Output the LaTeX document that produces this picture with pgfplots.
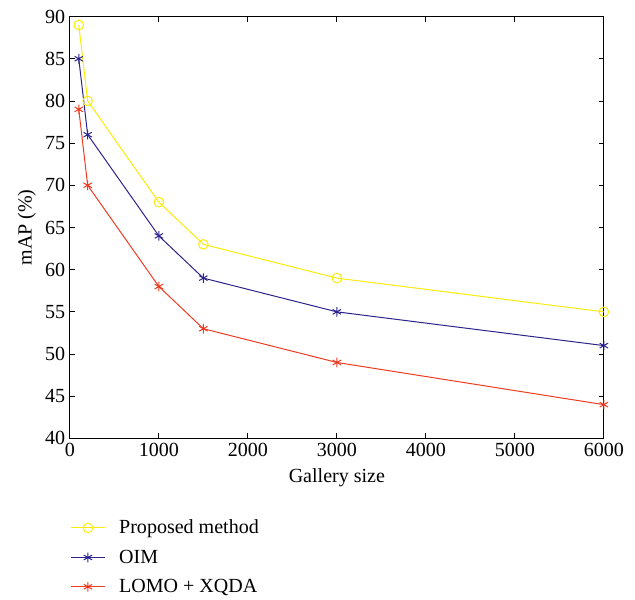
\documentclass[border=0pt]{standalone}
\usepackage{fontspec}
\setmainfont{Liberation Serif}
\usepackage{pgfplots}
\pgfplotsset{compat=1.18}
\definecolor{cyel}{RGB}{250,235,10}
\definecolor{cblue}{RGB}{45,35,140}
\definecolor{cred}{RGB}{238,60,35}
\begin{document}
\begin{tikzpicture}
\begin{axis}[
    width=400pt, height=316pt,
    scale only axis,
    xmin=0, xmax=6000,
    ymin=40, ymax=90,
    xtick={0,1000,2000,3000,4000,5000,6000},
    ytick={40,45,...,90},
    tick align=inside,
    tick style={black, line width=0.6pt},
    axis line style={line width=0.6pt},
    major tick length=4pt,
    xlabel={Gallery size},
    ylabel={mAP (\%)},
    scaled x ticks=false,
    /pgf/number format/assume math mode=true,
    /pgf/number format/1000 sep={},
    tick label style={font=\fontsize{15}{17}\selectfont},
    label style={font=\fontsize{15}{17}\selectfont},
    xlabel style={yshift=-2pt},
    legend style={draw=none, fill=none, at={(0,-0.18)}, anchor=north west,
        font=\fontsize{15}{17}\selectfont, row sep=6.5pt, cells={anchor=west},
        inner xsep=0pt},
    legend cell align=left,
    legend image code/.code={
        \draw[mark repeat=2, mark phase=2]
            plot coordinates {(0pt,0pt) (13pt,0pt) (26pt,0pt)};
        \path (34pt,0pt);
    },
    every axis plot/.append style={line width=0.75pt, mark size=3.6pt},
]
\addplot[color=cyel, mark=o] coordinates {
    (100,89)(200,80)(1000,68)(1500,63)(3000,59)(6000,55)
};
\addlegendentry{Proposed method}
\addplot[color=cblue, mark=asterisk] coordinates {
    (100,85)(200,76)(1000,64)(1500,59)(3000,55)(6000,51)
};
\addlegendentry{OIM}
\addplot[color=cred, mark=asterisk] coordinates {
    (100,79)(200,70)(1000,58)(1500,53)(3000,49)(6000,44)
};
\addlegendentry{LOMO + XQDA}
\end{axis}
% a little white space round the picture, as in the reference
\path ([shift={(-10pt,4pt)}]current bounding box.north west);
\path ([shift={(5pt,0pt)}]current bounding box.east);
\end{tikzpicture}
\end{document}
